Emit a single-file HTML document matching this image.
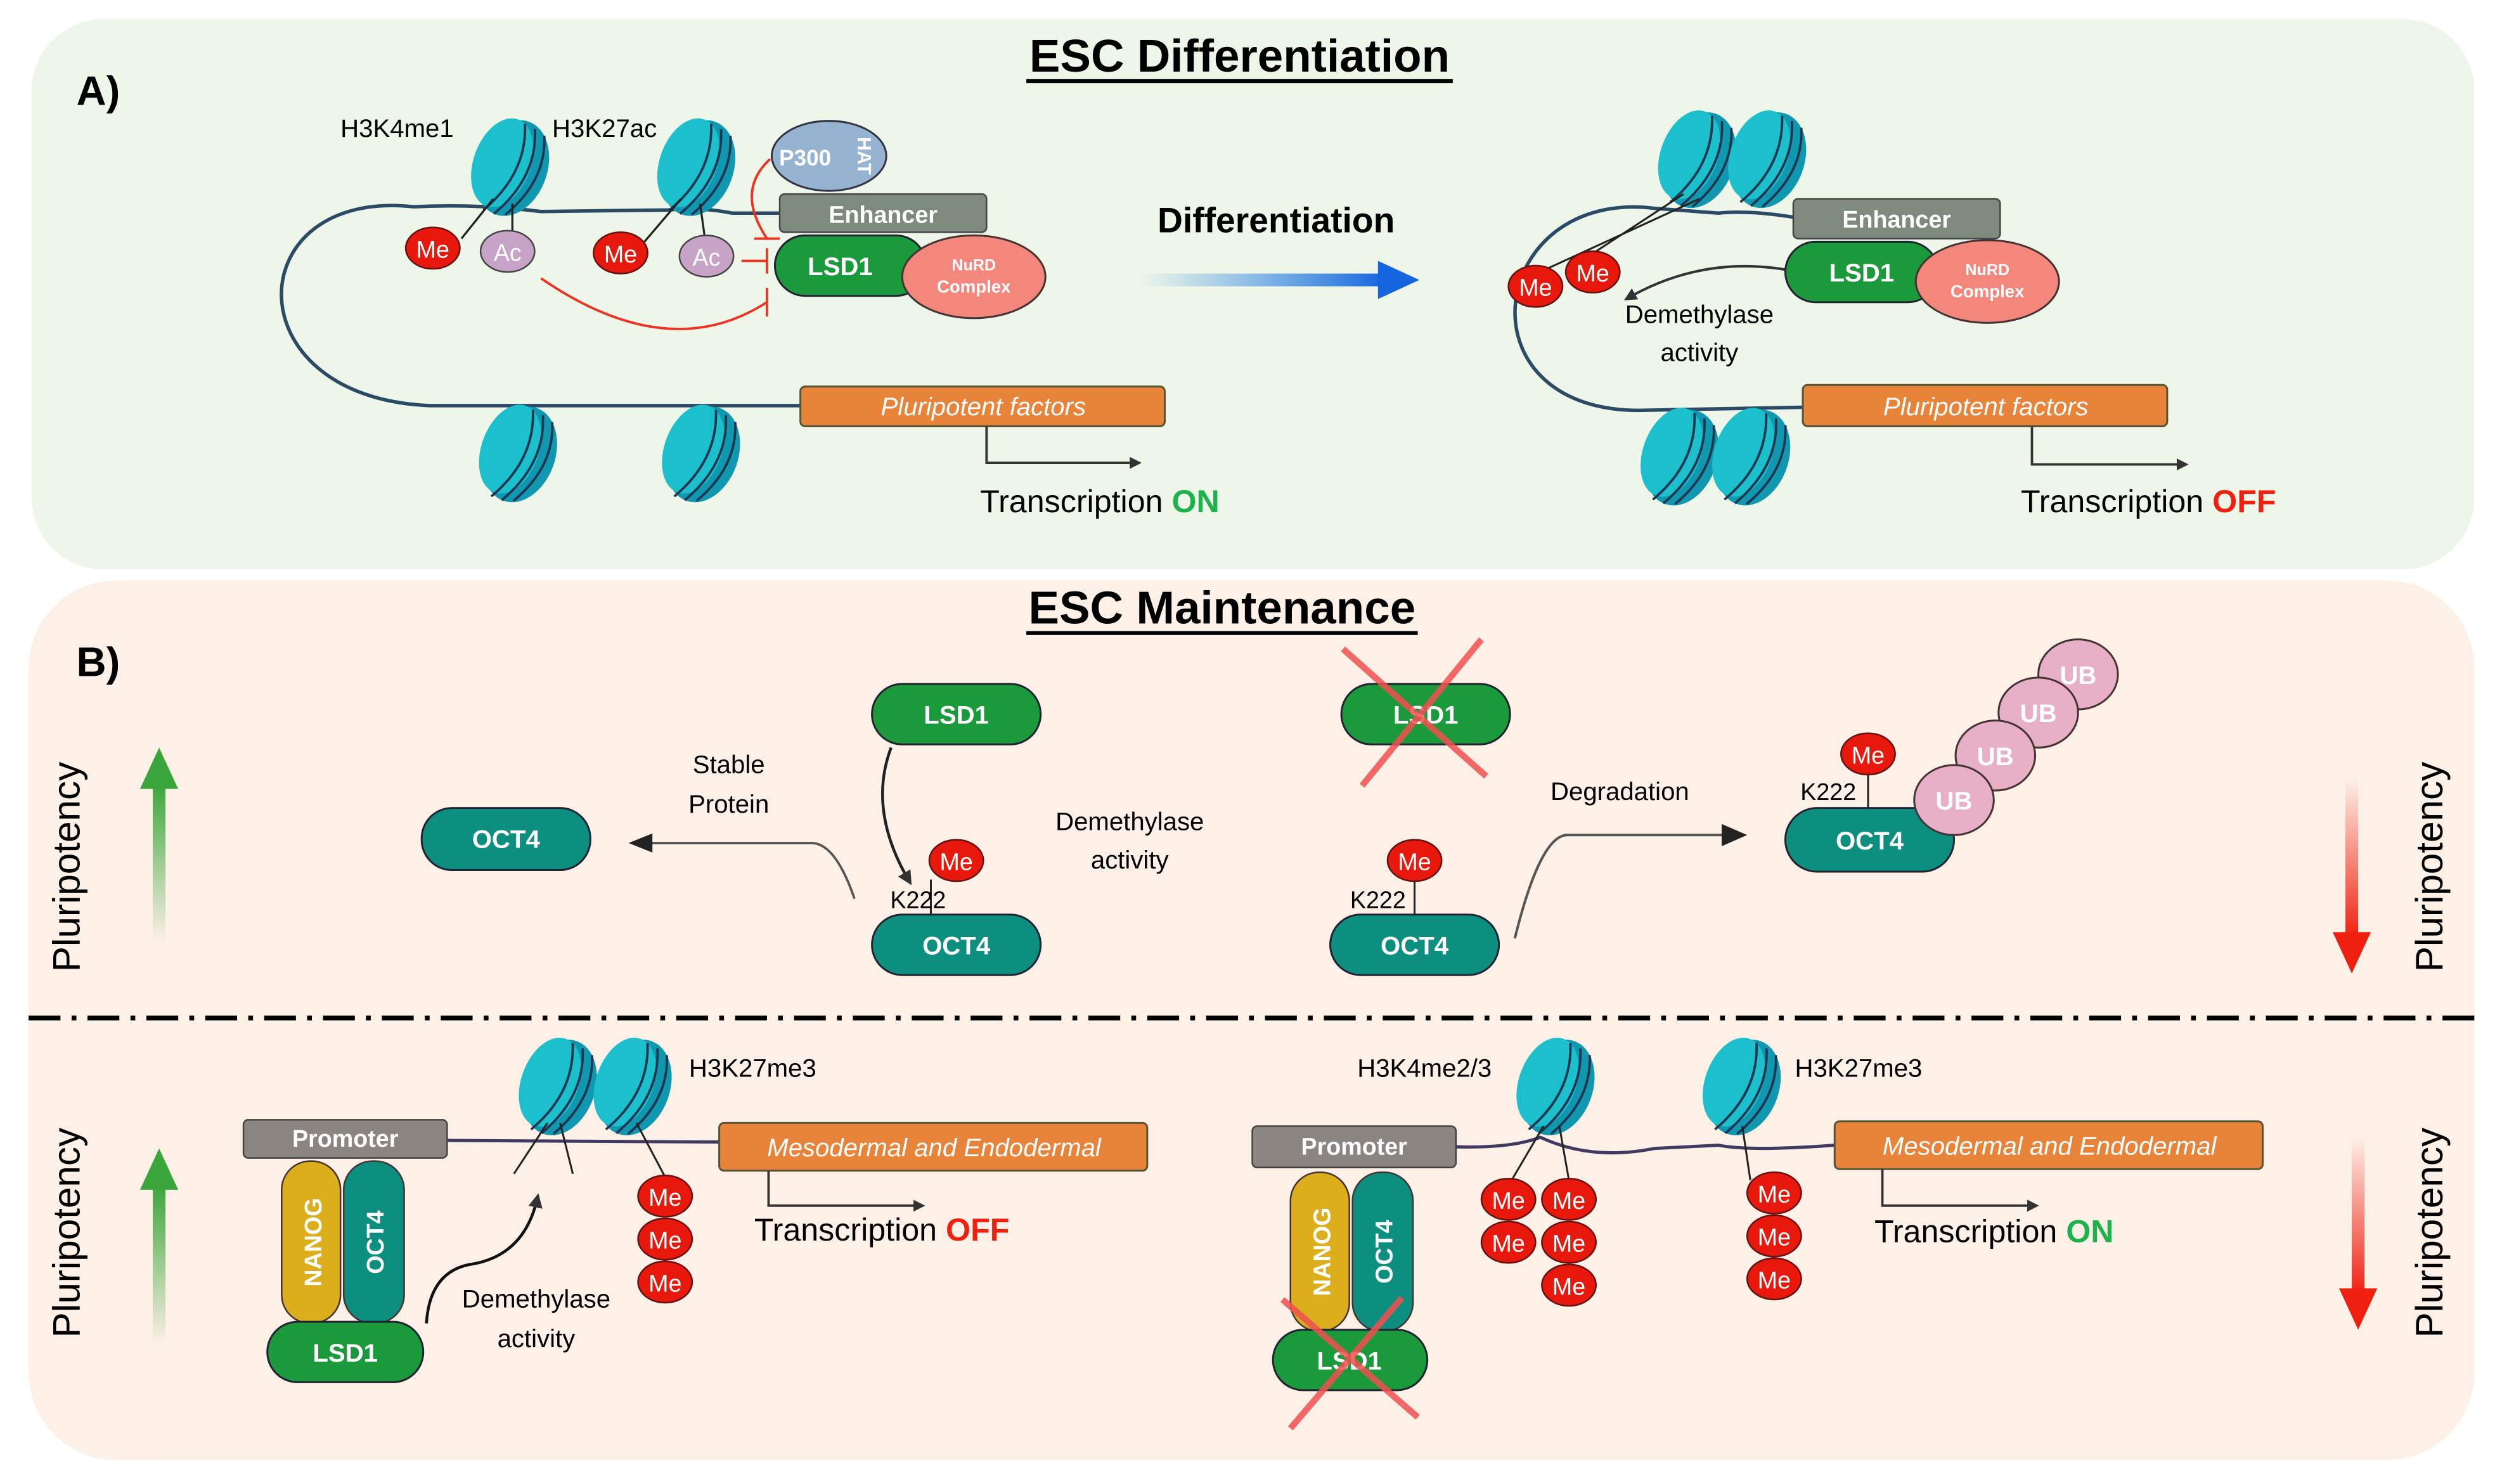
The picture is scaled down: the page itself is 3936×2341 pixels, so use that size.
<!DOCTYPE html>
<html><head><meta charset="utf-8"><style>
html,body{margin:0;padding:0;background:#fff}
svg{display:block}
text{font-family:"Liberation Sans",sans-serif}
</style></head><body>
<svg width="3936" height="2341" viewBox="0 0 1568 933" preserveAspectRatio="none" xmlns="http://www.w3.org/2000/svg">
<defs>
<linearGradient id="blue" x1="0" x2="1"><stop offset="0" stop-color="#1e88e5" stop-opacity="0"/><stop offset="1" stop-color="#1565e0"/></linearGradient>
<linearGradient id="gup" x1="0" y1="1" x2="0" y2="0"><stop offset="0" stop-color="#3aa53a" stop-opacity="0"/><stop offset="1" stop-color="#3aa53a"/></linearGradient>
<linearGradient id="rdn" x1="0" y1="0" x2="0" y2="1"><stop offset="0" stop-color="#f02010" stop-opacity="0"/><stop offset="1" stop-color="#f02010"/></linearGradient>
<g id="nuc">
<ellipse cx="2" cy="0" rx="22" ry="31" fill="#0f98b0"/>
<ellipse cx="-5" cy="-1" rx="18" ry="29" fill="#1cc0cc"/>
<path d="M0,-29 Q12,0 -6,31 M7,-28 Q19,0 1,31 M14,-26 Q25,0 8,29" stroke="#1f3550" stroke-width="1.5" fill="none"/>
</g>
<marker id="ah" viewBox="0 0 10 10" refX="8" refY="5" markerWidth="5" markerHeight="5" orient="auto"><path d="M0,0 L10,5 L0,10z" fill="#333"/></marker>
</defs>

<rect x="20" y="12" width="1535" height="346" rx="45" fill="#eef6e9"/>
<rect x="18" y="365" width="1537" height="553" rx="55" fill="#fdf0e7"/>

<text x="779" y="45" font-size="29" font-weight="bold" text-anchor="middle">ESC Differentiation</text>
<line x1="645" y1="51" x2="913" y2="51" stroke="#000" stroke-width="2.5"/>
<text x="48" y="66" font-size="26" font-weight="bold">A)</text>
<text x="768" y="392" font-size="29" font-weight="bold" text-anchor="middle">ESC Maintenance</text>
<line x1="645" y1="398" x2="891" y2="398" stroke="#000" stroke-width="2.5"/>
<text x="48" y="425" font-size="26" font-weight="bold">B)</text>

<path d="M490,134 L460,134 Q440,130 420,132 L340,133 Q300,128 260,130 C150,118 145,250 270,255 L505,255" stroke="#2a4a66" stroke-width="2.2" fill="none"/>
<use href="#nuc" transform="translate(320,105) rotate(20)"/>
<use href="#nuc" transform="translate(437,105) rotate(20)"/>
<use href="#nuc" transform="translate(325,285) rotate(20)"/>
<use href="#nuc" transform="translate(440,285) rotate(20)"/>
<text x="214" y="86" font-size="16">H3K4me1</text>
<text x="347" y="86" font-size="16">H3K27ac</text>
<path d="M310,125 L290,150 M322,128 L322,148 M428,125 L405,152 M440,128 L443,150" stroke="#222" stroke-width="1.3"/>
<ellipse cx="272" cy="156" rx="17" ry="13" fill="#e8180c" stroke="#611" stroke-width="1"/><text x="272" y="162" font-size="15" fill="#fff" text-anchor="middle">Me</text>
<ellipse cx="319" cy="158" rx="17" ry="13" fill="#c7a3c8" stroke="#444" stroke-width="1"/><text x="319" y="164" font-size="15" fill="#fff" text-anchor="middle">Ac</text>
<ellipse cx="390" cy="159" rx="17" ry="13" fill="#e8180c" stroke="#611" stroke-width="1"/><text x="390" y="165" font-size="15" fill="#fff" text-anchor="middle">Me</text>
<ellipse cx="444" cy="161" rx="17" ry="13" fill="#c7a3c8" stroke="#444" stroke-width="1"/><text x="444" y="167" font-size="15" fill="#fff" text-anchor="middle">Ac</text>
<path d="M340,175 Q420,230 482,190 M482,181 L482,199" stroke="#f03020" stroke-width="1.5" fill="none"/>
<path d="M466,164 L482,164 M482,156 L482,172" stroke="#f03020" stroke-width="1.5" fill="none"/>
<path d="M484,100 Q462,120 482,150 M474,150 L490,150" stroke="#f03020" stroke-width="1.5" fill="none"/>
<ellipse cx="521" cy="98" rx="36" ry="22" fill="#97b3d2" stroke="#334" stroke-width="1.2"/>
<text x="506" y="104" font-size="14" fill="#fff" text-anchor="middle" font-weight="bold">P300</text>
<text x="545" y="104" font-size="12" fill="#fff" text-anchor="middle" font-weight="bold" transform="rotate(90 545 98)">HAT</text>
<rect x="490" y="122" width="130" height="24" rx="3" fill="#7d8a7d" stroke="#444"/>
<text x="555" y="140" font-size="15" fill="#fff" font-weight="bold" text-anchor="middle">Enhancer</text>
<rect x="487" y="148" width="95" height="38" rx="19" fill="#1a9a3a" stroke="#223" stroke-width="1.2"/>
<text x="528" y="173" font-size="16" fill="#fff" font-weight="bold" text-anchor="middle">LSD1</text>
<ellipse cx="612" cy="174" rx="45" ry="26" fill="#f4877c" stroke="#433" stroke-width="1.2"/>
<text x="612" y="170" font-size="10" fill="#fff" font-weight="bold" text-anchor="middle">NuRD</text>
<text x="612" y="184" font-size="11" fill="#fff" font-weight="bold" text-anchor="middle">Complex</text>
<rect x="503" y="243" width="229" height="25" rx="3" fill="#e8843a" stroke="#553" stroke-width="1.2"/>
<text x="618" y="261" font-size="16" fill="#fff" font-style="italic" text-anchor="middle">Pluripotent factors</text>
<path d="M620,268 L620,291 L716,291" stroke="#333" stroke-width="1.5" fill="none" marker-end="url(#ah)"/>
<text x="616" y="322" font-size="20">Transcription <tspan fill="#1db34a" font-weight="bold">ON</tspan></text>

<text x="802" y="146" font-size="22" font-weight="bold" text-anchor="middle">Differentiation</text>
<rect x="716" y="172" width="154" height="8" fill="url(#blue)"/>
<path d="M866,164 L892,176 L866,188z" fill="#1565e0"/>

<path d="M1127,137 L1130,137 Q1100,132 1080,134 L1040,131 C935,118 915,258 1030,258 L1135,256" stroke="#2a4a66" stroke-width="2.2" fill="none"/>
<use href="#nuc" transform="translate(1066,100) rotate(20)"/>
<use href="#nuc" transform="translate(1110,100) rotate(20)"/>
<use href="#nuc" transform="translate(1055,287) rotate(20)"/>
<use href="#nuc" transform="translate(1100,287) rotate(20)"/>
<path d="M1058,122 L1000,160 M1068,125 L970,170" stroke="#222" stroke-width="1.2"/>
<ellipse cx="965" cy="180" rx="17" ry="13" fill="#e8180c" stroke="#611"/><text x="965" y="186" font-size="15" fill="#fff" text-anchor="middle">Me</text>
<ellipse cx="1001" cy="171" rx="17" ry="13" fill="#e8180c" stroke="#611"/><text x="1001" y="177" font-size="15" fill="#fff" text-anchor="middle">Me</text>
<path d="M1125,170 Q1070,160 1022,188" stroke="#333" stroke-width="1.6" fill="none" marker-end="url(#ah)"/>
<text x="1068" y="203" font-size="16" text-anchor="middle">Demethylase</text>
<text x="1068" y="227" font-size="16" text-anchor="middle">activity</text>
<rect x="1127" y="125" width="130" height="25" rx="3" fill="#7d8a7d" stroke="#444"/>
<text x="1192" y="143" font-size="15" fill="#fff" font-weight="bold" text-anchor="middle">Enhancer</text>
<rect x="1122" y="152" width="96" height="38" rx="19" fill="#1a9a3a" stroke="#223" stroke-width="1.2"/>
<text x="1170" y="177" font-size="16" fill="#fff" font-weight="bold" text-anchor="middle">LSD1</text>
<ellipse cx="1249" cy="177" rx="45" ry="26" fill="#f4877c" stroke="#433" stroke-width="1.2"/>
<text x="1249" y="173" font-size="10" fill="#fff" font-weight="bold" text-anchor="middle">NuRD</text>
<text x="1249" y="187" font-size="11" fill="#fff" font-weight="bold" text-anchor="middle">Complex</text>
<rect x="1133" y="242" width="229" height="26" rx="3" fill="#e8843a" stroke="#553" stroke-width="1.2"/>
<text x="1248" y="261" font-size="16" fill="#fff" font-style="italic" text-anchor="middle">Pluripotent factors</text>
<path d="M1277,268 L1277,292 L1374,292" stroke="#333" stroke-width="1.5" fill="none" marker-end="url(#ah)"/>
<text x="1270" y="322" font-size="20">Transcription <tspan fill="#f02010" font-weight="bold">OFF</tspan></text>

<rect x="96" y="492" width="8" height="100" fill="url(#gup)"/>
<path d="M88,496 L100,470 L112,496z" fill="#3aa53a"/>
<text transform="translate(50,545) rotate(-90)" font-size="24" text-anchor="middle">Pluripotency</text>
<rect x="1474" y="490" width="8" height="100" fill="url(#rdn)"/>
<path d="M1466,586 L1478,612 L1490,586z" fill="#f02010"/>
<text transform="translate(1535,545) rotate(-90)" font-size="24" text-anchor="middle">Pluripotency</text>

<rect x="548" y="430" width="106" height="38" rx="19" fill="#1a9a3a" stroke="#223" stroke-width="1.2"/>
<text x="601" y="455" font-size="16" fill="#fff" font-weight="bold" text-anchor="middle">LSD1</text>
<path d="M560,470 Q545,510 572,555" stroke="#222" stroke-width="1.8" fill="none" marker-end="url(#ah)"/>
<line x1="585" y1="553" x2="585" y2="576" stroke="#222" stroke-width="1.2"/>
<ellipse cx="601" cy="541" rx="17" ry="13" fill="#e8180c" stroke="#611"/><text x="601" y="547" font-size="15" fill="#fff" text-anchor="middle">Me</text>
<text x="577" y="571" font-size="15" text-anchor="middle">K222</text>
<rect x="548" y="575" width="106" height="38" rx="19" fill="#0d8f80" stroke="#223" stroke-width="1.2"/>
<text x="601" y="600" font-size="16" fill="#fff" font-weight="bold" text-anchor="middle">OCT4</text>
<text x="710" y="522" font-size="16" text-anchor="middle">Demethylase</text>
<text x="710" y="546" font-size="16" text-anchor="middle">activity</text>
<text x="458" y="486" font-size="16" text-anchor="middle">Stable</text>
<text x="458" y="511" font-size="16" text-anchor="middle">Protein</text>
<path d="M537,565 Q525,530 510,530 L398,530" stroke="#555" stroke-width="1.5" fill="none"/>
<path d="M395,530 L410,524 L410,536z" fill="#222"/>
<rect x="265" y="508" width="106" height="39" rx="19" fill="#0d8f80" stroke="#223" stroke-width="1.2"/>
<text x="318" y="533" font-size="16" fill="#fff" font-weight="bold" text-anchor="middle">OCT4</text>

<rect x="843" y="430" width="106" height="38" rx="19" fill="#1a9a3a" stroke="#223" stroke-width="1.2"/>
<text x="896" y="455" font-size="16" fill="#fff" font-weight="bold" text-anchor="middle">LSD1</text>
<path d="M844,408 L934,488 M856,494 L931,402" stroke="#f25050" stroke-width="4" opacity="0.85"/>
<line x1="889" y1="553" x2="889" y2="576" stroke="#222" stroke-width="1.2"/>
<ellipse cx="889" cy="541" rx="17" ry="13" fill="#e8180c" stroke="#611"/><text x="889" y="547" font-size="15" fill="#fff" text-anchor="middle">Me</text>
<text x="866" y="571" font-size="15" text-anchor="middle">K222</text>
<rect x="836" y="575" width="106" height="38" rx="19" fill="#0d8f80" stroke="#223" stroke-width="1.2"/>
<text x="889" y="600" font-size="16" fill="#fff" font-weight="bold" text-anchor="middle">OCT4</text>
<text x="1018" y="503" font-size="16" text-anchor="middle">Degradation</text>
<path d="M952,590 Q968,525 985,525 L1085,525" stroke="#555" stroke-width="1.6" fill="none"/>
<path d="M1098,525 L1082,518 L1082,532z" fill="#222"/>
<line x1="1174" y1="485" x2="1174" y2="508" stroke="#222" stroke-width="1.2"/>
<ellipse cx="1174" cy="474" rx="17" ry="13" fill="#e8180c" stroke="#611"/><text x="1174" y="480" font-size="15" fill="#fff" text-anchor="middle">Me</text>
<text x="1149" y="503" font-size="15" text-anchor="middle">K222</text>
<rect x="1122" y="508" width="106" height="40" rx="20" fill="#0d8f80" stroke="#223" stroke-width="1.2"/>
<text x="1175" y="534" font-size="16" fill="#fff" font-weight="bold" text-anchor="middle">OCT4</text>
<g fill="#e8b0c6" stroke="#433" stroke-width="1.2">
<ellipse cx="1306" cy="424" rx="25" ry="22"/>
<ellipse cx="1281" cy="448" rx="25" ry="22"/>
<ellipse cx="1254" cy="475" rx="25" ry="22"/>
<ellipse cx="1228" cy="503" rx="25" ry="22"/>
</g>
<g font-size="16" fill="#fff" text-anchor="middle" font-weight="bold">
<text x="1306" y="430">UB</text><text x="1281" y="454">UB</text><text x="1254" y="481">UB</text><text x="1228" y="509">UB</text>
</g>

<line x1="18" y1="640" x2="1555" y2="640" stroke="#000" stroke-width="3" stroke-dasharray="20,7,3,7"/>

<rect x="96" y="745" width="8" height="100" fill="url(#gup)"/>
<path d="M88,748 L100,722 L112,748z" fill="#3aa53a"/>
<text transform="translate(50,775) rotate(-90)" font-size="24" text-anchor="middle">Pluripotency</text>
<rect x="1478" y="715" width="8" height="100" fill="url(#rdn)"/>
<path d="M1470,810 L1482,836 L1494,810z" fill="#f02010"/>
<text transform="translate(1535,775) rotate(-90)" font-size="24" text-anchor="middle">Pluripotency</text>

<path d="M281,717 L452,718" stroke="#403a60" stroke-width="2" fill="none"/>
<use href="#nuc" transform="translate(350,683) rotate(20)"/>
<use href="#nuc" transform="translate(397,683) rotate(20)"/>
<path d="M344,706 L323,738 M352,706 L360,738 M400,706 L418,740" stroke="#222" stroke-width="1.2"/>
<text x="433" y="677" font-size="16">H3K27me3</text>
<rect x="153" y="704" width="128" height="24" rx="3" fill="#8a8580" stroke="#444"/>
<text x="217" y="721" font-size="15" fill="#fff" font-weight="bold" text-anchor="middle">Promoter</text>
<rect x="177" y="730" width="37" height="102" rx="18" fill="#dcae1c" stroke="#433"/>
<text transform="translate(202,781) rotate(-90)" font-size="15" fill="#fff" font-weight="bold" text-anchor="middle">NANOG</text>
<rect x="216" y="730" width="38" height="102" rx="18" fill="#0d8f80" stroke="#433"/>
<text transform="translate(241,781) rotate(-90)" font-size="15" fill="#fff" font-weight="bold" text-anchor="middle">OCT4</text>
<rect x="168" y="831" width="98" height="38" rx="19" fill="#1a9a3a" stroke="#223" stroke-width="1.2"/>
<text x="217" y="856" font-size="16" fill="#fff" font-weight="bold" text-anchor="middle">LSD1</text>
<path d="M268,832 Q270,800 295,795 Q330,790 338,752" stroke="#111" stroke-width="1.8" fill="none" marker-end="url(#ah)"/>
<text x="337" y="822" font-size="16" text-anchor="middle">Demethylase</text>
<text x="337" y="847" font-size="16" text-anchor="middle">activity</text>
<g fill="#e8180c" stroke="#611">
<ellipse cx="418" cy="752" rx="17" ry="13"/><ellipse cx="418" cy="779" rx="17" ry="13"/><ellipse cx="418" cy="806" rx="17" ry="13"/>
</g>
<g font-size="15" fill="#fff" text-anchor="middle"><text x="418" y="758">Me</text><text x="418" y="785">Me</text><text x="418" y="812">Me</text></g>
<rect x="452" y="706" width="269" height="30" rx="3" fill="#e8843a" stroke="#553" stroke-width="1.2"/>
<text x="587" y="727" font-size="16" fill="#fff" font-style="italic" text-anchor="middle">Mesodermal and Endodermal</text>
<path d="M483,736 L483,758 L580,758" stroke="#333" stroke-width="1.5" fill="none" marker-end="url(#ah)"/>
<text x="474" y="780" font-size="20">Transcription <tspan fill="#f02010" font-weight="bold">OFF</tspan></text>

<path d="M915,721 Q950,722 968,715 Q1000,730 1040,722 L1080,720 Q1100,724 1153,720" stroke="#403a60" stroke-width="2" fill="none"/>
<use href="#nuc" transform="translate(977,683) rotate(20)"/>
<use href="#nuc" transform="translate(1094,683) rotate(20)"/>
<path d="M970,708 L950,742 M980,708 L986,742 M1095,708 L1100,742" stroke="#222" stroke-width="1.2"/>
<text x="853" y="677" font-size="16">H3K4me2/3</text>
<text x="1128" y="677" font-size="16">H3K27me3</text>
<rect x="787" y="708" width="128" height="26" rx="3" fill="#8a8580" stroke="#444"/>
<text x="851" y="726" font-size="15" fill="#fff" font-weight="bold" text-anchor="middle">Promoter</text>
<rect x="811" y="737" width="37" height="100" rx="18" fill="#dcae1c" stroke="#433"/>
<text transform="translate(836,787) rotate(-90)" font-size="15" fill="#fff" font-weight="bold" text-anchor="middle">NANOG</text>
<rect x="850" y="737" width="38" height="100" rx="18" fill="#0d8f80" stroke="#433"/>
<text transform="translate(875,787) rotate(-90)" font-size="15" fill="#fff" font-weight="bold" text-anchor="middle">OCT4</text>
<rect x="800" y="836" width="97" height="38" rx="19" fill="#1a9a3a" stroke="#223" stroke-width="1.2"/>
<text x="848" y="861" font-size="16" fill="#fff" font-weight="bold" text-anchor="middle">LSD1</text>
<path d="M806,817 L891,891 M811,898 L881,816" stroke="#f25050" stroke-width="4" opacity="0.85"/>
<g fill="#e8180c" stroke="#611">
<ellipse cx="948" cy="754" rx="17" ry="13"/><ellipse cx="986" cy="754" rx="17" ry="13"/>
<ellipse cx="948" cy="781" rx="17" ry="13"/><ellipse cx="986" cy="781" rx="17" ry="13"/>
<ellipse cx="986" cy="808" rx="17" ry="13"/>
<ellipse cx="1115" cy="750" rx="17" ry="13"/><ellipse cx="1115" cy="777" rx="17" ry="13"/><ellipse cx="1115" cy="804" rx="17" ry="13"/>
</g>
<g font-size="15" fill="#fff" text-anchor="middle">
<text x="948" y="760">Me</text><text x="986" y="760">Me</text><text x="948" y="787">Me</text><text x="986" y="787">Me</text><text x="986" y="814">Me</text>
<text x="1115" y="756">Me</text><text x="1115" y="783">Me</text><text x="1115" y="810">Me</text>
</g>
<rect x="1153" y="705" width="269" height="30" rx="3" fill="#e8843a" stroke="#553" stroke-width="1.2"/>
<text x="1288" y="726" font-size="16" fill="#fff" font-style="italic" text-anchor="middle">Mesodermal and Endodermal</text>
<path d="M1183,735 L1183,758 L1280,758" stroke="#333" stroke-width="1.5" fill="none" marker-end="url(#ah)"/>
<text x="1178" y="781" font-size="20">Transcription <tspan fill="#1db34a" font-weight="bold">ON</tspan></text>
</svg>
</body></html>
